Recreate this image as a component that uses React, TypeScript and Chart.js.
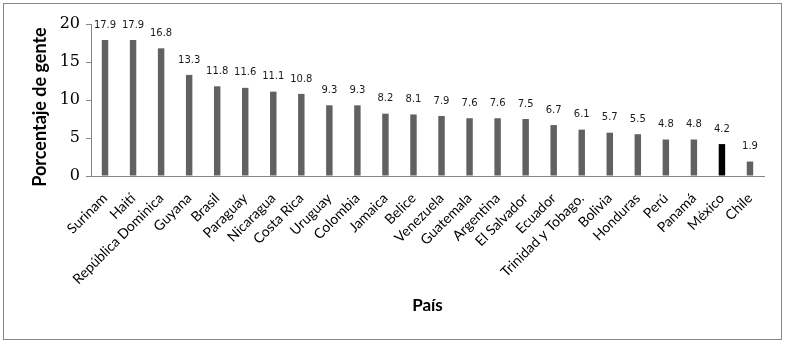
import React, { useEffect, useRef } from "react";
import { Chart, registerables } from "chart.js";

Chart.register(...registerables);

const countries = [
  "Surinam", "Haití", "República Dominica", "Guyana", "Brasil", "Paraguay",
  "Nicaragua", "Costa Rica", "Uruguay", "Colombia", "Jamaica", "Belice",
  "Venezuela", "Guatemala", "Argentina", "El Salvador", "Ecuador",
  "Trinidad y Tobago.", "Bolivia", "Honduras", "Perú", "Panamá", "México", "Chile",
];
const values = [
  17.9, 17.9, 16.8, 13.3, 11.8, 11.6, 11.1, 10.8, 9.3, 9.3, 8.2, 8.1, 7.9, 7.6,
  7.6, 7.5, 6.7, 6.1, 5.7, 5.5, 4.8, 4.8, 4.2, 1.9,
];
const highlight = "México";
const yTitle = "Porcentaje de gente";
const xTitle = "País";

export default function App() {
  const ref = useRef<HTMLCanvasElement | null>(null);
  useEffect(() => {
    document.body.style.margin = "0";
    const canvas = ref.current;
    if (!canvas) return;
    const labelPlugin = {
      id: "labelsAndTitles",
      afterDatasetsDraw(chart: any) {
        const ctx = chart.ctx;
        const meta = chart.getDatasetMeta(0);
        ctx.save();
        ctx.font = "10px 'DejaVu Sans'";
        ctx.fillStyle = "#1a1a1a";
        ctx.textAlign = "center";
        ctx.textBaseline = "middle";
        meta.data.forEach((bar: any, i: number) => {
          ctx.fillText(values[i].toFixed(1), bar.x, bar.y - 15);
        });
        const area = chart.chartArea;
        ctx.font = "bold 17px Lato";
        ctx.fillStyle = "#000";
        ctx.fillText(xTitle, (area.left + area.right) / 2, 306);
        ctx.font = "bold 18px Lato";
        ctx.translate(40, 107);
        ctx.rotate(-Math.PI / 2);
        ctx.fillText(yTitle, 0, 0);
        ctx.restore();
      },
    };
    const chart = new Chart(canvas, {
      type: "bar",
      data: {
        labels: countries,
        datasets: [
          {
            data: values,
            backgroundColor: countries.map((c) => (c === highlight ? "#000000" : "#616161")),
            barPercentage: 0.23,
            categoryPercentage: 1,
          },
        ],
      },
      options: {
        responsive: false,
        animation: false,
        layout: { padding: { left: 0, right: 26, top: 24, bottom: 0 } },
        plugins: { legend: { display: false }, tooltip: { enabled: false } },
        scales: {
          x: {
            grid: { display: false },
            border: { color: "#868686" },
            ticks: {
              minRotation: 45,
              maxRotation: 45,
              autoSkip: false,
              color: "#000",
              font: { family: "Lato", size: 14 },
              padding: 6,
            },
            afterFit: (s: any) => {
              s.height = 166;
            },
          },
          y: {
            min: 0,
            max: 20,
            grid: { drawOnChartArea: false, drawTicks: true, tickLength: 5, color: "#868686" },
            border: { color: "#868686" },
            ticks: {
              stepSize: 5,
              color: "#000",
              font: { family: "DejaVu Serif", size: 16 },
              padding: 6,
            },
            afterFit: (s: any) => {
              s.width = 91;
            },
          },
        },
      },
      plugins: [labelPlugin],
    });
    return () => chart.destroy();
  }, []);
  return (
    <div style={{ position: "relative", width: 790, height: 342 }}>
      <canvas ref={ref} width={790} height={342} style={{ position: "absolute", left: 0, top: 0 }} />
      <div
        style={{
          position: "absolute",
          left: 3,
          top: 3,
          width: 777,
          height: 335,
          border: "1px solid #888",
          pointerEvents: "none",
        }}
      />
    </div>
  );
}
